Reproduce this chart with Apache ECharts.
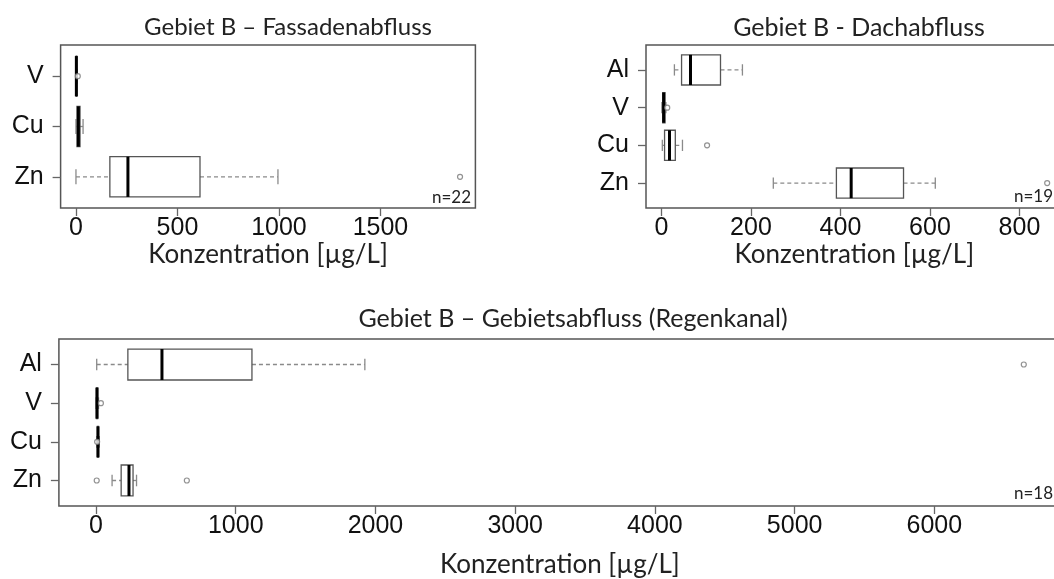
<!DOCTYPE html>
<html>
<head>
<meta charset="utf-8">
<script src="https://cdn.jsdelivr.net/npm/echarts@6/dist/echarts.min.js"></script>
<style>html,body{margin:0;padding:0;background:#fff}#c{width:1054px;height:579px}</style>
</head>
<body>
<div id="c"></div>
<script>
// ---- data ----
// each box: [lower whisker, Q1, median, Q3, upper whisker]
const catsA = ['Zn', 'Cu', 'V'];
const boxA = [[0, 167, 256, 611, 995], [0, 5, 12, 20, 35], [0, 1, 2, 4, 6]];
const outA = [['Zn', 1892], ['V', 9]];

const catsB = ['Zn', 'Cu', 'V', 'Al'];
const boxB = [[250, 391, 424, 541, 612], [2, 7, 18, 31, 47], [1, 3, 5, 8, 10], [29, 45, 65, 132, 181]];
const outB = [['Zn', 862], ['Cu', 102], ['V', 13]];

const catsC = ['Zn', 'Cu', 'V', 'Al'];
const boxC = [[115, 180, 236, 265, 290], [5, 10, 14, 18, 24], [0, 3, 7, 12, 18], [5, 228, 472, 1116, 1924]];
const outC = [['Zn', 5], ['Zn', 650], ['Cu', 8], ['V', 35], ['Al', 6640]];

const ticksA = [0, 500, 1000, 1500];
const ticksB = [0, 200, 400, 600, 800];
const ticksC = [0, 1000, 2000, 3000, 4000, 5000, 6000];

const titles = ['Gebiet B \u2013 Fassadenabfluss', 'Gebiet B - Dachabfluss', 'Gebiet B \u2013 Gebietsabfluss (Regenkanal)'];
const nLabels = ['n=22', 'n=19', 'n=18'];
const xName = 'Konzentration [\u00b5g/L]';

// ---- helpers ----
const TFONT = 'Lato, "Open Sans", sans-serif';
const AFONT = '"Liberation Sans", Arial, sans-serif';

function boxData(cats, boxes) {
  return boxes.map((b, i) => [i + 1].concat(b));
}
function outData(cats, outs) {
  return outs.map(o => [o[1], cats.indexOf(o[0]) + 1]);
}
function renderBox(params, api) {
  const y = api.value(0);
  const lo = api.value(1), q1 = api.value(2), md = api.value(3), q3 = api.value(4), hi = api.value(5);
  const half = api.size([0, 0.4])[1];
  const cap = api.size([0, 0.15])[1];
  const pLo = api.coord([lo, y]), pQ1 = api.coord([q1, y]), pMd = api.coord([md, y]),
        pQ3 = api.coord([q3, y]), pHi = api.coord([hi, y]);
  const wStyle = { stroke: '#8a8a8a', lineWidth: 1.3, lineDash: [4, 3] };
  const cStyle = { stroke: '#8a8a8a', lineWidth: 1.3 };
  return {
    type: 'group',
    children: [
      { type: 'line', shape: { x1: pLo[0], y1: pLo[1], x2: pQ1[0], y2: pQ1[1] }, style: wStyle },
      { type: 'line', shape: { x1: pQ3[0], y1: pQ3[1], x2: pHi[0], y2: pHi[1] }, style: wStyle },
      { type: 'line', shape: { x1: pLo[0], y1: pLo[1] - cap, x2: pLo[0], y2: pLo[1] + cap }, style: cStyle },
      { type: 'line', shape: { x1: pHi[0], y1: pHi[1] - cap, x2: pHi[0], y2: pHi[1] + cap }, style: cStyle },
      { type: 'rect', shape: { x: pQ1[0], y: pQ1[1] - half, width: Math.max(pQ3[0] - pQ1[0], 0.5), height: half * 2 },
        style: { fill: '#fff', stroke: '#555', lineWidth: 1.3 } },
      { type: 'line', shape: { x1: pMd[0], y1: pMd[1] - half, x2: pMd[0], y2: pMd[1] + half },
        style: { stroke: '#000', lineWidth: 3 } }
    ]
  };
}

function xAxisDef(idx, min, max, ticks, nameGap) {
  return {
    type: 'value', gridIndex: idx, min: min, max: max,
    splitLine: { show: false },
    axisLine: { show: false, onZero: false },
    axisTick: { show: true, length: 8, customValues: ticks, lineStyle: { color: '#666', width: 1.3 } },
    axisLabel: { customValues: ticks, margin: 8, fontFamily: AFONT, fontSize: 25, color: '#111',
      formatter: v => String(v) },
    name: xName, nameLocation: 'middle', nameGap: nameGap,
    nameTextStyle: { fontFamily: TFONT, fontSize: 26, color: '#222' }
  };
}
function yAxisDef(idx, cats) {
  const n = cats.length;
  const pos = cats.map((c, i) => i + 1);
  const ext = 0.04 * n;
  return {
    type: 'value', gridIndex: idx, min: 0.5 - ext, max: n + 0.5 + ext,
    splitLine: { show: false },
    axisLine: { show: false, onZero: false },
    axisTick: { show: true, length: 8, customValues: pos, lineStyle: { color: '#666', width: 1.3 } },
    axisLabel: { customValues: pos, margin: 17, fontFamily: AFONT, fontSize: 25, color: '#111',
      formatter: v => cats[Math.round(v) - 1] || '' }
  };
}
function rExt(lo, hi) { const d = (hi - lo) * 0.04; return [lo - d, hi + d]; }

const exA = rExt(0, 1892), exB = rExt(0, 862), exC = rExt(0, 6640);
const gridBorder = { show: true, borderColor: '#555', borderWidth: 1.5, backgroundColor: 'transparent',
  containLabel: false, outerBoundsMode: 'none' };
const outStyle = { color: '#fff', borderColor: '#777', borderWidth: 1.2 };
const titleStyle = { fontFamily: TFONT, fontSize: 25, fontWeight: 'normal', color: '#222' };

const option = {
  animation: false,
  backgroundColor: '#fff',
  title: [
    { text: titles[0], left: 283, top: 10, textAlign: 'center', textStyle: Object.assign({}, titleStyle, { fontSize: 24 }) },
    { text: titles[1], left: 854, top: 10, textAlign: 'center', textStyle: titleStyle },
    { text: titles[2], left: 568, top: 301, textAlign: 'center', textStyle: titleStyle }
  ],
  grid: [
    Object.assign({ left: 60.6, top: 45, width: 414.8, height: 163 }, gridBorder),
    Object.assign({ left: 646, top: 45, width: 416.6, height: 163 }, gridBorder),
    Object.assign({ left: 58.9, top: 339, width: 1002, height: 167 }, gridBorder)
  ],
  xAxis: [
    xAxisDef(0, exA[0], exA[1], ticksA, 34),
    xAxisDef(1, exB[0], exB[1], ticksB, 34),
    xAxisDef(2, exC[0], exC[1], ticksC, 46)
  ],
  yAxis: [yAxisDef(0, catsA), yAxisDef(1, catsB), yAxisDef(2, catsC)],
  series: [
    { type: 'custom', xAxisIndex: 0, yAxisIndex: 0, renderItem: renderBox, data: boxData(catsA, boxA) },
    { type: 'custom', xAxisIndex: 1, yAxisIndex: 1, renderItem: renderBox, data: boxData(catsB, boxB) },
    { type: 'custom', xAxisIndex: 2, yAxisIndex: 2, renderItem: renderBox, data: boxData(catsC, boxC) },
    { type: 'scatter', xAxisIndex: 0, yAxisIndex: 0, symbol: 'circle', symbolSize: 5, itemStyle: outStyle, data: outData(catsA, outA), z: 3 },
    { type: 'scatter', xAxisIndex: 1, yAxisIndex: 1, symbol: 'circle', symbolSize: 5, itemStyle: outStyle, data: outData(catsB, outB), z: 3 },
    { type: 'scatter', xAxisIndex: 2, yAxisIndex: 2, symbol: 'circle', symbolSize: 5, itemStyle: outStyle, data: outData(catsC, outC), z: 3 }
  ],
  graphic: [
    { type: 'text', right: 1054 - 471, top: 189, style: { text: nLabels[0], fontFamily: TFONT, fontSize: 17, fill: '#222' } },
    { type: 'text', left: 1014, top: 188, style: { text: nLabels[1], fontFamily: TFONT, fontSize: 17, fill: '#222' } },
    { type: 'text', left: 1014, top: 485, style: { text: nLabels[2], fontFamily: TFONT, fontSize: 17, fill: '#222' } }
  ]
};

const chart = echarts.init(document.getElementById('c'), null, { renderer: 'canvas' });
chart.setOption(option);
</script>
</body>
</html>
